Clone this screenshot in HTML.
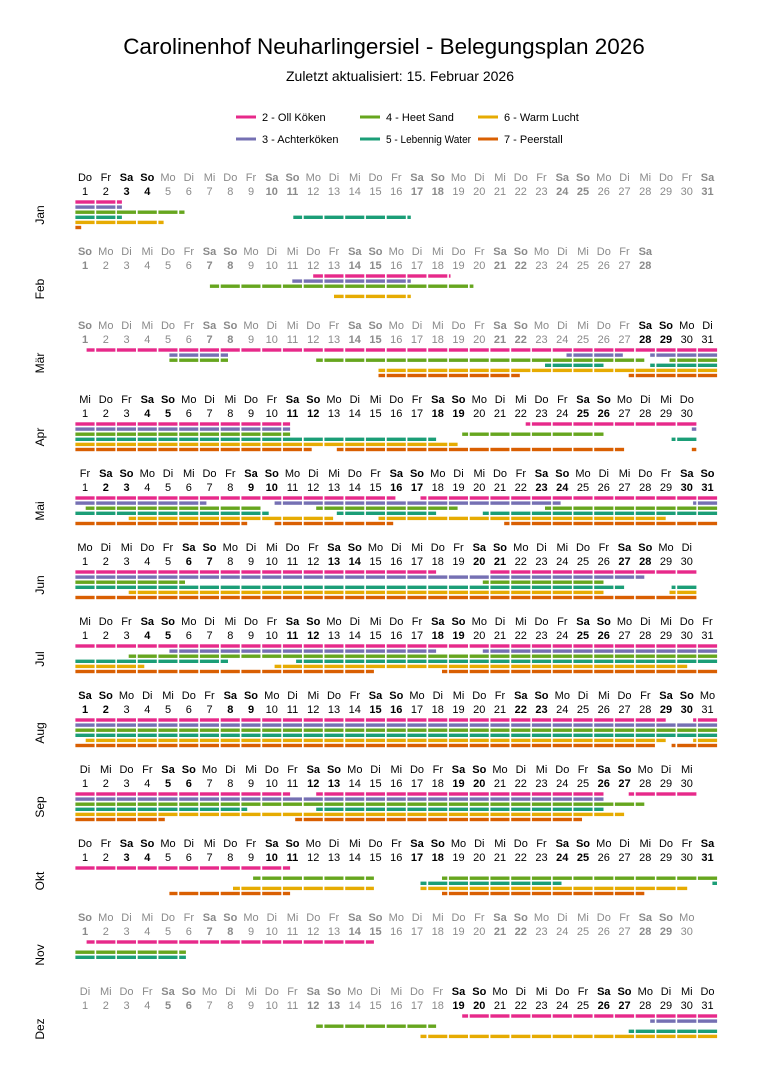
<!DOCTYPE html>
<html><head><meta charset="utf-8"><style>
html,body{margin:0;padding:0;background:#fff}
svg{display:block;font-family:"Liberation Sans",Arial,sans-serif}
</style></head><body>
<svg id="s" width="768" height="1086" viewBox="0 0 768 1086" xmlns="http://www.w3.org/2000/svg">
<text x="384" y="54" text-anchor="middle" font-size="22.5" fill="#000">Carolinenhof Neuharlingersiel - Belegungsplan 2026</text>
<text x="400" y="81" text-anchor="middle" font-size="14" fill="#000">Zuletzt aktualisiert: 15. Februar 2026</text>
<g font-size="11" fill="#000">
<line x1="236" x2="256" y1="117" y2="117" stroke="#e7298a" stroke-width="3"/><text x="262" y="121">2 - Oll Köken</text>
<line x1="360" x2="380" y1="117" y2="117" stroke="#66a61e" stroke-width="3"/><text x="386" y="121">4 - Heet Sand</text>
<line x1="478" x2="498" y1="117" y2="117" stroke="#e6ab02" stroke-width="3"/><text x="504" y="121">6 - Warm Lucht</text>
<line x1="236" x2="256" y1="139" y2="139" stroke="#7570b3" stroke-width="3"/><text x="262" y="143">3 - Achterköken</text>
<line x1="360" x2="380" y1="139" y2="139" stroke="#1b9e77" stroke-width="3"/><text x="386" y="143" textLength="85" lengthAdjust="spacingAndGlyphs">5 - Lebennig Water</text>
<line x1="478" x2="498" y1="139" y2="139" stroke="#d95f02" stroke-width="3"/><text x="504" y="143">7 - Peerstall</text>
</g>
<g id="g"></g>
</svg>
<script>
var cols=["#e7298a","#7570b3","#66a61e","#1b9e77","#e6ab02","#d95f02"];
var mn=["Jan","Feb","Mär","Apr","Mai","Jun","Jul","Aug","Sep","Okt","Nov","Dez"];
var wd=["So","Mo","Di","Mi","Do","Fr","Sa"];
var dim=[31,28,31,30,31,30,31,31,30,31,30,31];
var black=[[1,4],null,[28,31],[1,30],[1,31],[1,30],[1,31],[1,31],[1,30],[1,31],null,[19,31]];
var DX=20.75, X0=85;
function S(x){return X0+(x-86)*DX/20.9;}
function Z(z){return S(z/2.313+60);}
var raw={0:[[[75,124]],[[75,124]],[[75,187]],[[75,124],[295,415]],[[75,166]],[[75,83]]],
1:[[[315,455]],[[294,415]],[[211,478]],[],[[336,415]],[]]};
var zd={
2:[[[62,1538]],[[255,395],[1180,1315],[1375,1538]],[[255,395],[597,1365],[1420,1538]],[[1130,1270],[1375,1538]],[[742,1538]],[[742,1075],[1325,1538]]],
3:[[[35,540],[1085,1490]],[[35,540],[1472,1490]],[[35,540],[937,1270]],[[35,880],[1425,1490]],[[35,930]],[[35,590],[645,1318],[1472,1490]]],
4:[[[35,785],[840,1538]],[[35,345],[500,1170],[1475,1538]],[[60,475],[597,930],[1130,1538]],[[35,490],[645,880],[985,1538]],[[160,640],[742,1415]],[[35,440],[500,780],[1035,1538]]],
5:[[[35,880],[1000,1490]],[[35,1365]],[[35,295],[985,1270]],[[35,1318],[1425,1490]],[[160,1270],[1420,1490]],[[35,1490]]],
6:[[[35,1538]],[[255,880],[985,1538]],[[160,1538]],[[35,395],[550,1538]],[[35,200],[500,1465]],[[35,735],[890,1538]]],
7:[[[35,1415],[1475,1538]],[[35,1538]],[[35,1538]],[[35,1538]],[[60,1415],[1475,1538]],[[35,1395],[1425,1538]]],
8:[[[35,540],[597,1270],[1325,1490]],[[35,1270]],[[35,1365]],[[35,440],[597,1270]],[[35,1318]],[[35,248],[548,1220]]],
9:[[[35,540]],[],[[450,735],[890,1538]],[[840,1172],[1520,1538]],[[403,735],[840,1465]],[[255,540],[890,1365]]],
10:[[[62,735]],[],[[35,297]],[[35,297]],[],[]],
11:[[[937,1538]],[[1375,1538]],[[597,880]],[[1325,1538]],[[840,1538]],[]]};
var h='';
for(var m=0;m<12;m++){
 var oy=m*74;
 for(var d=1;d<=dim[m];d++){
  var x=X0+(d-1)*DX;
  var w=new Date(2026,m,d).getDay();
  var bold=(w==0||w==6);
  var b=black[m]&&d>=black[m][0]&&d<=black[m][1];
  var c=b?"#000":"#8a8a8a";
  var fw=bold?' font-weight="bold"':'';
  h+='<text x="'+x.toFixed(1)+'" y="'+(181+oy)+'" text-anchor="middle" font-size="11" fill="'+c+'"'+fw+'>'+wd[w]+'</text>';
  h+='<text x="'+x.toFixed(1)+'" y="'+(195+oy)+'" text-anchor="middle" font-size="11" fill="'+c+'"'+fw+'>'+d+'</text>';
 }
 h+='<text transform="translate(44,'+(215+oy)+') rotate(-90)" text-anchor="middle" font-size="12" fill="#000">'+mn[m]+'</text>';
 var rows=raw[m]||zd[m];
 var isRaw=!!raw[m];
 for(var r=0;r<6;r++){
  var segs=rows[r]||[];
  var y=200.3+oy+r*5.1;
  for(var s=0;s<segs.length;s++){
   var a=isRaw?S(segs[s][0]):Z(segs[s][0]), e=isRaw?S(segs[s][1]):Z(segs[s][1]);
   for(var k=0;k<dim[m];k++){
    var cl=X0-DX/2+k*DX, cr=cl+DX;
    var l=Math.max(a,cl)+0.8, rr=Math.min(e,cr)-0.8;
    if(rr-l>1) h+='<rect x="'+l.toFixed(1)+'" y="'+y.toFixed(1)+'" width="'+(rr-l).toFixed(1)+'" height="3.4" fill="'+cols[r]+'"/>';
   }
  }
 }
}
document.getElementById('g').innerHTML=h;
</script>
</body></html>
